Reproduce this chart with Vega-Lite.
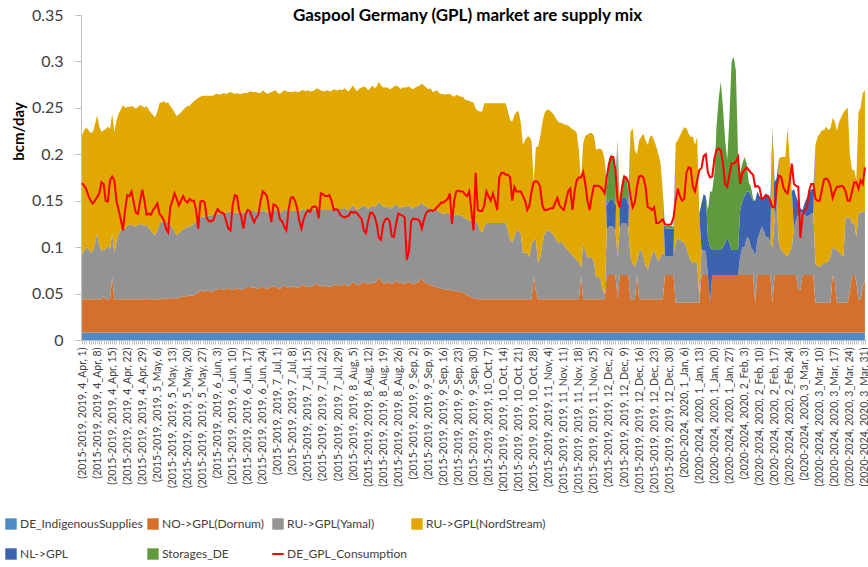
{
"$schema":"https://vega.github.io/schema/vega-lite/v6.json",
"width":785,"height":325,
"autosize":{"type":"none"},
"padding":{"left":81,"top":15,"right":2,"bottom":227},
"background":"white",
"config":{"view":{"stroke":null},"font":"Lato"},
"title":{"text":"Gaspool Germany (GPL) market are supply mix","fontSize":17,"fontWeight":"bold","font":"Lato","color":"#000000","offset":-18,"dx":-6},
"datasets":{
"names":[{"k":"a","name":"DE_IndigenousSupplies"},{"k":"b","name":"NO->GPL(Dornum)"},{"k":"c","name":"RU->GPL(Yamal)"},{"k":"e","name":"RU->GPL(NordStream)"},{"k":"f","name":"NL->GPL"},{"k":"g","name":"Storages_DE"}],
"supply":[
{"t":"(2015-2019, 2019, 4_Apr, 1)","a":0.008,"b":0.036,"c":0.048,"e":0.129,"f":0,"g":0,"h":0.169},
{"t":"(2015-2019, 2019, 4_Apr, 2)","a":0.008,"b":0.036,"c":0.052,"e":0.130,"f":0,"g":0,"h":0.166},
{"t":"(2015-2019, 2019, 4_Apr, 3)","a":0.008,"b":0.036,"c":0.056,"e":0.129,"f":0,"g":0,"h":0.162},
{"t":"(2015-2019, 2019, 4_Apr, 4)","a":0.008,"b":0.036,"c":0.054,"e":0.128,"f":0,"g":0,"h":0.155},
{"t":"(2015-2019, 2019, 4_Apr, 5)","a":0.008,"b":0.036,"c":0.050,"e":0.129,"f":0,"g":0,"h":0.150},
{"t":"(2015-2019, 2019, 4_Apr, 6)","a":0.008,"b":0.036,"c":0.052,"e":0.128,"f":0,"g":0,"h":0.147},
{"t":"(2015-2019, 2019, 4_Apr, 7)","a":0.008,"b":0.036,"c":0.060,"e":0.128,"f":0,"g":0,"h":0.150},
{"t":"(2015-2019, 2019, 4_Apr, 8)","a":0.008,"b":0.036,"c":0.071,"e":0.127,"f":0,"g":0,"h":0.154},
{"t":"(2015-2019, 2019, 4_Apr, 9)","a":0.008,"b":0.036,"c":0.058,"e":0.128,"f":0,"g":0,"h":0.158},
{"t":"(2015-2019, 2019, 4_Apr, 10)","a":0.008,"b":0.036,"c":0.052,"e":0.128,"f":0,"g":0,"h":0.170},
{"t":"(2015-2019, 2019, 4_Apr, 11)","a":0.008,"b":0.039,"c":0.050,"e":0.129,"f":0,"g":0,"h":0.168},
{"t":"(2015-2019, 2019, 4_Apr, 12)","a":0.008,"b":0.036,"c":0.054,"e":0.129,"f":0,"g":0,"h":0.150},
{"t":"(2015-2019, 2019, 4_Apr, 13)","a":0.008,"b":0.036,"c":0.058,"e":0.128,"f":0,"g":0,"h":0.149},
{"t":"(2015-2019, 2019, 4_Apr, 14)","a":0.008,"b":0.036,"c":0.054,"e":0.129,"f":0,"g":0,"h":0.172},
{"t":"(2015-2019, 2019, 4_Apr, 15)","a":0.008,"b":0.060,"c":0.047,"e":0.129,"f":0,"g":0,"h":0.176},
{"t":"(2015-2019, 2019, 4_Apr, 16)","a":0.008,"b":0.036,"c":0.050,"e":0.130,"f":0,"g":0,"h":0.172},
{"t":"(2015-2019, 2019, 4_Apr, 17)","a":0.008,"b":0.036,"c":0.062,"e":0.130,"f":0,"g":0,"h":0.150},
{"t":"(2015-2019, 2019, 4_Apr, 18)","a":0.008,"b":0.036,"c":0.070,"e":0.130,"f":0,"g":0,"h":0.140},
{"t":"(2015-2019, 2019, 4_Apr, 19)","a":0.008,"b":0.036,"c":0.074,"e":0.130,"f":0,"g":0,"h":0.130},
{"t":"(2015-2019, 2019, 4_Apr, 20)","a":0.008,"b":0.036,"c":0.076,"e":0.133,"f":0,"g":0,"h":0.118},
{"t":"(2015-2019, 2019, 4_Apr, 21)","a":0.008,"b":0.036,"c":0.076,"e":0.130,"f":0,"g":0,"h":0.140},
{"t":"(2015-2019, 2019, 4_Apr, 22)","a":0.008,"b":0.036,"c":0.079,"e":0.128,"f":0,"g":0,"h":0.156},
{"t":"(2015-2019, 2019, 4_Apr, 23)","a":0.008,"b":0.036,"c":0.080,"e":0.127,"f":0,"g":0,"h":0.155},
{"t":"(2015-2019, 2019, 4_Apr, 24)","a":0.008,"b":0.036,"c":0.080,"e":0.128,"f":0,"g":0,"h":0.160},
{"t":"(2015-2019, 2019, 4_Apr, 25)","a":0.008,"b":0.036,"c":0.079,"e":0.128,"f":0,"g":0,"h":0.148},
{"t":"(2015-2019, 2019, 4_Apr, 26)","a":0.008,"b":0.036,"c":0.078,"e":0.127,"f":0,"g":0,"h":0.137},
{"t":"(2015-2019, 2019, 4_Apr, 27)","a":0.008,"b":0.036,"c":0.080,"e":0.127,"f":0,"g":0,"h":0.136},
{"t":"(2015-2019, 2019, 4_Apr, 28)","a":0.008,"b":0.036,"c":0.081,"e":0.128,"f":0,"g":0,"h":0.150},
{"t":"(2015-2019, 2019, 4_Apr, 29)","a":0.008,"b":0.036,"c":0.080,"e":0.128,"f":0,"g":0,"h":0.162},
{"t":"(2015-2019, 2019, 4_Apr, 30)","a":0.008,"b":0.036,"c":0.079,"e":0.127,"f":0,"g":0,"h":0.150},
{"t":"(2015-2019, 2019, 5_May, 1)","a":0.008,"b":0.037,"c":0.079,"e":0.128,"f":0,"g":0,"h":0.135},
{"t":"(2015-2019, 2019, 5_May, 2)","a":0.008,"b":0.036,"c":0.077,"e":0.127,"f":0,"g":0,"h":0.136},
{"t":"(2015-2019, 2019, 5_May, 3)","a":0.008,"b":0.036,"c":0.074,"e":0.127,"f":0,"g":0,"h":0.135},
{"t":"(2015-2019, 2019, 5_May, 4)","a":0.008,"b":0.036,"c":0.071,"e":0.127,"f":0,"g":0,"h":0.140},
{"t":"(2015-2019, 2019, 5_May, 5)","a":0.008,"b":0.036,"c":0.069,"e":0.127,"f":0,"g":0,"h":0.143},
{"t":"(2015-2019, 2019, 5_May, 6)","a":0.008,"b":0.036,"c":0.074,"e":0.128,"f":0,"g":0,"h":0.147},
{"t":"(2015-2019, 2019, 5_May, 7)","a":0.008,"b":0.036,"c":0.082,"e":0.129,"f":0,"g":0,"h":0.136},
{"t":"(2015-2019, 2019, 5_May, 8)","a":0.008,"b":0.036,"c":0.083,"e":0.129,"f":0,"g":0,"h":0.133},
{"t":"(2015-2019, 2019, 5_May, 9)","a":0.008,"b":0.037,"c":0.083,"e":0.129,"f":0,"g":0,"h":0.129},
{"t":"(2015-2019, 2019, 5_May, 10)","a":0.008,"b":0.036,"c":0.083,"e":0.128,"f":0,"g":0,"h":0.120},
{"t":"(2015-2019, 2019, 5_May, 11)","a":0.008,"b":0.037,"c":0.082,"e":0.129,"f":0,"g":0,"h":0.116},
{"t":"(2015-2019, 2019, 5_May, 12)","a":0.008,"b":0.037,"c":0.079,"e":0.128,"f":0,"g":0,"h":0.143},
{"t":"(2015-2019, 2019, 5_May, 13)","a":0.008,"b":0.037,"c":0.076,"e":0.128,"f":0,"g":0,"h":0.150},
{"t":"(2015-2019, 2019, 5_May, 14)","a":0.008,"b":0.037,"c":0.072,"e":0.128,"f":0,"g":0,"h":0.158},
{"t":"(2015-2019, 2019, 5_May, 15)","a":0.008,"b":0.037,"c":0.068,"e":0.128,"f":0,"g":0,"h":0.152},
{"t":"(2015-2019, 2019, 5_May, 16)","a":0.008,"b":0.037,"c":0.070,"e":0.128,"f":0,"g":0,"h":0.145},
{"t":"(2015-2019, 2019, 5_May, 17)","a":0.008,"b":0.039,"c":0.070,"e":0.128,"f":0,"g":0,"h":0.150},
{"t":"(2015-2019, 2019, 5_May, 18)","a":0.008,"b":0.039,"c":0.072,"e":0.129,"f":0,"g":0,"h":0.155},
{"t":"(2015-2019, 2019, 5_May, 19)","a":0.008,"b":0.039,"c":0.074,"e":0.129,"f":0,"g":0,"h":0.150},
{"t":"(2015-2019, 2019, 5_May, 20)","a":0.008,"b":0.039,"c":0.075,"e":0.130,"f":0,"g":0,"h":0.148},
{"t":"(2015-2019, 2019, 5_May, 21)","a":0.008,"b":0.040,"c":0.074,"e":0.130,"f":0,"g":0,"h":0.152},
{"t":"(2015-2019, 2019, 5_May, 22)","a":0.008,"b":0.040,"c":0.076,"e":0.131,"f":0,"g":0,"h":0.150},
{"t":"(2015-2019, 2019, 5_May, 23)","a":0.008,"b":0.040,"c":0.077,"e":0.132,"f":0,"g":0,"h":0.150},
{"t":"(2015-2019, 2019, 5_May, 24)","a":0.008,"b":0.042,"c":0.078,"e":0.131,"f":0,"g":0,"h":0.140},
{"t":"(2015-2019, 2019, 5_May, 25)","a":0.008,"b":0.043,"c":0.079,"e":0.131,"f":0,"g":0,"h":0.120},
{"t":"(2015-2019, 2019, 5_May, 26)","a":0.008,"b":0.045,"c":0.079,"e":0.130,"f":0,"g":0,"h":0.149},
{"t":"(2015-2019, 2019, 5_May, 27)","a":0.008,"b":0.045,"c":0.080,"e":0.130,"f":0,"g":0,"h":0.150},
{"t":"(2015-2019, 2019, 5_May, 28)","a":0.008,"b":0.044,"c":0.081,"e":0.130,"f":0,"g":0,"h":0.148},
{"t":"(2015-2019, 2019, 5_May, 29)","a":0.008,"b":0.045,"c":0.081,"e":0.129,"f":0,"g":0,"h":0.131},
{"t":"(2015-2019, 2019, 5_May, 30)","a":0.008,"b":0.045,"c":0.081,"e":0.129,"f":0,"g":0,"h":0.128},
{"t":"(2015-2019, 2019, 5_May, 31)","a":0.008,"b":0.044,"c":0.082,"e":0.129,"f":0,"g":0,"h":0.128},
{"t":"(2015-2019, 2019, 6_Jun, 1)","a":0.008,"b":0.045,"c":0.082,"e":0.128,"f":0,"g":0,"h":0.129},
{"t":"(2015-2019, 2019, 6_Jun, 2)","a":0.008,"b":0.046,"c":0.083,"e":0.128,"f":0,"g":0,"h":0.136},
{"t":"(2015-2019, 2019, 6_Jun, 3)","a":0.008,"b":0.046,"c":0.082,"e":0.129,"f":0,"g":0,"h":0.141},
{"t":"(2015-2019, 2019, 6_Jun, 4)","a":0.008,"b":0.047,"c":0.081,"e":0.128,"f":0,"g":0,"h":0.138},
{"t":"(2015-2019, 2019, 6_Jun, 5)","a":0.008,"b":0.047,"c":0.082,"e":0.128,"f":0,"g":0,"h":0.137},
{"t":"(2015-2019, 2019, 6_Jun, 6)","a":0.008,"b":0.046,"c":0.083,"e":0.129,"f":0,"g":0,"h":0.136},
{"t":"(2015-2019, 2019, 6_Jun, 7)","a":0.008,"b":0.047,"c":0.082,"e":0.128,"f":0,"g":0,"h":0.128},
{"t":"(2015-2019, 2019, 6_Jun, 8)","a":0.008,"b":0.048,"c":0.082,"e":0.128,"f":0,"g":0,"h":0.120},
{"t":"(2015-2019, 2019, 6_Jun, 9)","a":0.008,"b":0.047,"c":0.083,"e":0.129,"f":0,"g":0,"h":0.118},
{"t":"(2015-2019, 2019, 6_Jun, 10)","a":0.008,"b":0.046,"c":0.084,"e":0.128,"f":0,"g":0,"h":0.145},
{"t":"(2015-2019, 2019, 6_Jun, 11)","a":0.008,"b":0.047,"c":0.082,"e":0.128,"f":0,"g":0,"h":0.156},
{"t":"(2015-2019, 2019, 6_Jun, 12)","a":0.008,"b":0.048,"c":0.081,"e":0.129,"f":0,"g":0,"h":0.155},
{"t":"(2015-2019, 2019, 6_Jun, 13)","a":0.008,"b":0.047,"c":0.082,"e":0.128,"f":0,"g":0,"h":0.140},
{"t":"(2015-2019, 2019, 6_Jun, 14)","a":0.008,"b":0.046,"c":0.083,"e":0.128,"f":0,"g":0,"h":0.133},
{"t":"(2015-2019, 2019, 6_Jun, 15)","a":0.008,"b":0.047,"c":0.082,"e":0.129,"f":0,"g":0,"h":0.120},
{"t":"(2015-2019, 2019, 6_Jun, 16)","a":0.008,"b":0.048,"c":0.082,"e":0.128,"f":0,"g":0,"h":0.135},
{"t":"(2015-2019, 2019, 6_Jun, 17)","a":0.008,"b":0.049,"c":0.081,"e":0.128,"f":0,"g":0,"h":0.140},
{"t":"(2015-2019, 2019, 6_Jun, 18)","a":0.008,"b":0.049,"c":0.082,"e":0.129,"f":0,"g":0,"h":0.139},
{"t":"(2015-2019, 2019, 6_Jun, 19)","a":0.008,"b":0.048,"c":0.083,"e":0.128,"f":0,"g":0,"h":0.132},
{"t":"(2015-2019, 2019, 6_Jun, 20)","a":0.008,"b":0.049,"c":0.082,"e":0.128,"f":0,"g":0,"h":0.127},
{"t":"(2015-2019, 2019, 6_Jun, 21)","a":0.008,"b":0.048,"c":0.082,"e":0.129,"f":0,"g":0,"h":0.132},
{"t":"(2015-2019, 2019, 6_Jun, 22)","a":0.008,"b":0.047,"c":0.083,"e":0.128,"f":0,"g":0,"h":0.135},
{"t":"(2015-2019, 2019, 6_Jun, 23)","a":0.008,"b":0.048,"c":0.082,"e":0.128,"f":0,"g":0,"h":0.150},
{"t":"(2015-2019, 2019, 6_Jun, 24)","a":0.008,"b":0.050,"c":0.082,"e":0.129,"f":0,"g":0,"h":0.160},
{"t":"(2015-2019, 2019, 6_Jun, 25)","a":0.008,"b":0.048,"c":0.083,"e":0.128,"f":0,"g":0,"h":0.158},
{"t":"(2015-2019, 2019, 6_Jun, 26)","a":0.008,"b":0.047,"c":0.082,"e":0.128,"f":0,"g":0,"h":0.155},
{"t":"(2015-2019, 2019, 6_Jun, 27)","a":0.008,"b":0.048,"c":0.081,"e":0.129,"f":0,"g":0,"h":0.140},
{"t":"(2015-2019, 2019, 6_Jun, 28)","a":0.008,"b":0.049,"c":0.082,"e":0.128,"f":0,"g":0,"h":0.127},
{"t":"(2015-2019, 2019, 6_Jun, 29)","a":0.008,"b":0.050,"c":0.082,"e":0.128,"f":0,"g":0,"h":0.146},
{"t":"(2015-2019, 2019, 6_Jun, 30)","a":0.008,"b":0.049,"c":0.083,"e":0.129,"f":0,"g":0,"h":0.145},
{"t":"(2015-2019, 2019, 7_Jul, 1)","a":0.008,"b":0.048,"c":0.082,"e":0.128,"f":0,"g":0,"h":0.142},
{"t":"(2015-2019, 2019, 7_Jul, 2)","a":0.008,"b":0.047,"c":0.082,"e":0.128,"f":0,"g":0,"h":0.130},
{"t":"(2015-2019, 2019, 7_Jul, 3)","a":0.008,"b":0.049,"c":0.081,"e":0.129,"f":0,"g":0,"h":0.128},
{"t":"(2015-2019, 2019, 7_Jul, 4)","a":0.008,"b":0.051,"c":0.082,"e":0.128,"f":0,"g":0,"h":0.122},
{"t":"(2015-2019, 2019, 7_Jul, 5)","a":0.008,"b":0.049,"c":0.083,"e":0.128,"f":0,"g":0,"h":0.118},
{"t":"(2015-2019, 2019, 7_Jul, 6)","a":0.008,"b":0.048,"c":0.082,"e":0.129,"f":0,"g":0,"h":0.140},
{"t":"(2015-2019, 2019, 7_Jul, 7)","a":0.008,"b":0.049,"c":0.082,"e":0.128,"f":0,"g":0,"h":0.153},
{"t":"(2015-2019, 2019, 7_Jul, 8)","a":0.008,"b":0.050,"c":0.081,"e":0.128,"f":0,"g":0,"h":0.154},
{"t":"(2015-2019, 2019, 7_Jul, 9)","a":0.008,"b":0.049,"c":0.082,"e":0.129,"f":0,"g":0,"h":0.150},
{"t":"(2015-2019, 2019, 7_Jul, 10)","a":0.008,"b":0.048,"c":0.083,"e":0.128,"f":0,"g":0,"h":0.142},
{"t":"(2015-2019, 2019, 7_Jul, 11)","a":0.008,"b":0.049,"c":0.082,"e":0.128,"f":0,"g":0,"h":0.128},
{"t":"(2015-2019, 2019, 7_Jul, 12)","a":0.008,"b":0.050,"c":0.082,"e":0.129,"f":0,"g":0,"h":0.120},
{"t":"(2015-2019, 2019, 7_Jul, 13)","a":0.008,"b":0.052,"c":0.081,"e":0.128,"f":0,"g":0,"h":0.130},
{"t":"(2015-2019, 2019, 7_Jul, 14)","a":0.008,"b":0.050,"c":0.082,"e":0.128,"f":0,"g":0,"h":0.136},
{"t":"(2015-2019, 2019, 7_Jul, 15)","a":0.008,"b":0.049,"c":0.083,"e":0.129,"f":0,"g":0,"h":0.140},
{"t":"(2015-2019, 2019, 7_Jul, 16)","a":0.008,"b":0.050,"c":0.082,"e":0.128,"f":0,"g":0,"h":0.138},
{"t":"(2015-2019, 2019, 7_Jul, 17)","a":0.008,"b":0.050,"c":0.082,"e":0.128,"f":0,"g":0,"h":0.143},
{"t":"(2015-2019, 2019, 7_Jul, 18)","a":0.008,"b":0.051,"c":0.081,"e":0.129,"f":0,"g":0,"h":0.144},
{"t":"(2015-2019, 2019, 7_Jul, 19)","a":0.008,"b":0.053,"c":0.082,"e":0.128,"f":0,"g":0,"h":0.143},
{"t":"(2015-2019, 2019, 7_Jul, 20)","a":0.008,"b":0.051,"c":0.083,"e":0.128,"f":0,"g":0,"h":0.131},
{"t":"(2015-2019, 2019, 7_Jul, 21)","a":0.008,"b":0.050,"c":0.082,"e":0.129,"f":0,"g":0,"h":0.158},
{"t":"(2015-2019, 2019, 7_Jul, 22)","a":0.008,"b":0.050,"c":0.082,"e":0.128,"f":0,"g":0,"h":0.157},
{"t":"(2015-2019, 2019, 7_Jul, 23)","a":0.008,"b":0.051,"c":0.081,"e":0.128,"f":0,"g":0,"h":0.155},
{"t":"(2015-2019, 2019, 7_Jul, 24)","a":0.008,"b":0.050,"c":0.082,"e":0.129,"f":0,"g":0,"h":0.155},
{"t":"(2015-2019, 2019, 7_Jul, 25)","a":0.008,"b":0.049,"c":0.083,"e":0.128,"f":0,"g":0,"h":0.156},
{"t":"(2015-2019, 2019, 7_Jul, 26)","a":0.008,"b":0.050,"c":0.082,"e":0.128,"f":0,"g":0,"h":0.150},
{"t":"(2015-2019, 2019, 7_Jul, 27)","a":0.008,"b":0.051,"c":0.082,"e":0.129,"f":0,"g":0,"h":0.140},
{"t":"(2015-2019, 2019, 7_Jul, 28)","a":0.008,"b":0.052,"c":0.081,"e":0.128,"f":0,"g":0,"h":0.141},
{"t":"(2015-2019, 2019, 7_Jul, 29)","a":0.008,"b":0.051,"c":0.082,"e":0.128,"f":0,"g":0,"h":0.140},
{"t":"(2015-2019, 2019, 7_Jul, 30)","a":0.008,"b":0.050,"c":0.083,"e":0.129,"f":0,"g":0,"h":0.135},
{"t":"(2015-2019, 2019, 7_Jul, 31)","a":0.008,"b":0.051,"c":0.082,"e":0.128,"f":0,"g":0,"h":0.133},
{"t":"(2015-2019, 2019, 8_Aug, 1)","a":0.008,"b":0.053,"c":0.082,"e":0.128,"f":0,"g":0,"h":0.132},
{"t":"(2015-2019, 2019, 8_Aug, 2)","a":0.008,"b":0.051,"c":0.081,"e":0.129,"f":0,"g":0,"h":0.133},
{"t":"(2015-2019, 2019, 8_Aug, 3)","a":0.008,"b":0.050,"c":0.082,"e":0.128,"f":0,"g":0,"h":0.134},
{"t":"(2015-2019, 2019, 8_Aug, 4)","a":0.008,"b":0.052,"c":0.083,"e":0.128,"f":0,"g":0,"h":0.138},
{"t":"(2015-2019, 2019, 8_Aug, 5)","a":0.008,"b":0.055,"c":0.082,"e":0.129,"f":0,"g":0,"h":0.137},
{"t":"(2015-2019, 2019, 8_Aug, 6)","a":0.008,"b":0.052,"c":0.082,"e":0.128,"f":0,"g":0,"h":0.138},
{"t":"(2015-2019, 2019, 8_Aug, 7)","a":0.008,"b":0.051,"c":0.081,"e":0.128,"f":0,"g":0,"h":0.136},
{"t":"(2015-2019, 2019, 8_Aug, 8)","a":0.008,"b":0.052,"c":0.082,"e":0.129,"f":0,"g":0,"h":0.133},
{"t":"(2015-2019, 2019, 8_Aug, 9)","a":0.008,"b":0.053,"c":0.083,"e":0.128,"f":0,"g":0,"h":0.130},
{"t":"(2015-2019, 2019, 8_Aug, 10)","a":0.008,"b":0.055,"c":0.082,"e":0.128,"f":0,"g":0,"h":0.118},
{"t":"(2015-2019, 2019, 8_Aug, 11)","a":0.008,"b":0.053,"c":0.082,"e":0.129,"f":0,"g":0,"h":0.115},
{"t":"(2015-2019, 2019, 8_Aug, 12)","a":0.008,"b":0.052,"c":0.081,"e":0.128,"f":0,"g":0,"h":0.128},
{"t":"(2015-2019, 2019, 8_Aug, 13)","a":0.008,"b":0.053,"c":0.082,"e":0.128,"f":0,"g":0,"h":0.137},
{"t":"(2015-2019, 2019, 8_Aug, 14)","a":0.008,"b":0.054,"c":0.083,"e":0.129,"f":0,"g":0,"h":0.137},
{"t":"(2015-2019, 2019, 8_Aug, 15)","a":0.008,"b":0.053,"c":0.082,"e":0.128,"f":0,"g":0,"h":0.133},
{"t":"(2015-2019, 2019, 8_Aug, 16)","a":0.008,"b":0.055,"c":0.082,"e":0.128,"f":0,"g":0,"h":0.125},
{"t":"(2015-2019, 2019, 8_Aug, 17)","a":0.008,"b":0.060,"c":0.081,"e":0.129,"f":0,"g":0,"h":0.110},
{"t":"(2015-2019, 2019, 8_Aug, 18)","a":0.008,"b":0.056,"c":0.082,"e":0.128,"f":0,"g":0,"h":0.108},
{"t":"(2015-2019, 2019, 8_Aug, 19)","a":0.008,"b":0.053,"c":0.083,"e":0.128,"f":0,"g":0,"h":0.125},
{"t":"(2015-2019, 2019, 8_Aug, 20)","a":0.008,"b":0.053,"c":0.082,"e":0.129,"f":0,"g":0,"h":0.130},
{"t":"(2015-2019, 2019, 8_Aug, 21)","a":0.008,"b":0.054,"c":0.082,"e":0.128,"f":0,"g":0,"h":0.131},
{"t":"(2015-2019, 2019, 8_Aug, 22)","a":0.008,"b":0.053,"c":0.081,"e":0.128,"f":0,"g":0,"h":0.128},
{"t":"(2015-2019, 2019, 8_Aug, 23)","a":0.008,"b":0.052,"c":0.082,"e":0.129,"f":0,"g":0,"h":0.112},
{"t":"(2015-2019, 2019, 8_Aug, 24)","a":0.008,"b":0.054,"c":0.083,"e":0.128,"f":0,"g":0,"h":0.111},
{"t":"(2015-2019, 2019, 8_Aug, 25)","a":0.008,"b":0.056,"c":0.082,"e":0.128,"f":0,"g":0,"h":0.125},
{"t":"(2015-2019, 2019, 8_Aug, 26)","a":0.008,"b":0.054,"c":0.082,"e":0.129,"f":0,"g":0,"h":0.136},
{"t":"(2015-2019, 2019, 8_Aug, 27)","a":0.008,"b":0.053,"c":0.081,"e":0.128,"f":0,"g":0,"h":0.135},
{"t":"(2015-2019, 2019, 8_Aug, 28)","a":0.008,"b":0.054,"c":0.082,"e":0.128,"f":0,"g":0,"h":0.134},
{"t":"(2015-2019, 2019, 8_Aug, 29)","a":0.008,"b":0.052,"c":0.083,"e":0.129,"f":0,"g":0,"h":0.132},
{"t":"(2015-2019, 2019, 8_Aug, 30)","a":0.008,"b":0.054,"c":0.082,"e":0.128,"f":0,"g":0,"h":0.086},
{"t":"(2015-2019, 2019, 8_Aug, 31)","a":0.008,"b":0.055,"c":0.082,"e":0.128,"f":0,"g":0,"h":0.096},
{"t":"(2015-2019, 2019, 9_Sep, 1)","a":0.008,"b":0.053,"c":0.081,"e":0.129,"f":0,"g":0,"h":0.128},
{"t":"(2015-2019, 2019, 9_Sep, 2)","a":0.008,"b":0.052,"c":0.082,"e":0.128,"f":0,"g":0,"h":0.131},
{"t":"(2015-2019, 2019, 9_Sep, 3)","a":0.008,"b":0.053,"c":0.083,"e":0.128,"f":0,"g":0,"h":0.130},
{"t":"(2015-2019, 2019, 9_Sep, 4)","a":0.008,"b":0.054,"c":0.082,"e":0.129,"f":0,"g":0,"h":0.130},
{"t":"(2015-2019, 2019, 9_Sep, 5)","a":0.008,"b":0.056,"c":0.082,"e":0.128,"f":0,"g":0,"h":0.128},
{"t":"(2015-2019, 2019, 9_Sep, 6)","a":0.008,"b":0.059,"c":0.081,"e":0.128,"f":0,"g":0,"h":0.120},
{"t":"(2015-2019, 2019, 9_Sep, 7)","a":0.008,"b":0.055,"c":0.082,"e":0.129,"f":0,"g":0,"h":0.130},
{"t":"(2015-2019, 2019, 9_Sep, 8)","a":0.008,"b":0.053,"c":0.083,"e":0.128,"f":0,"g":0,"h":0.137},
{"t":"(2015-2019, 2019, 9_Sep, 9)","a":0.008,"b":0.052,"c":0.082,"e":0.128,"f":0,"g":0,"h":0.139},
{"t":"(2015-2019, 2019, 9_Sep, 10)","a":0.008,"b":0.052,"c":0.082,"e":0.129,"f":0,"g":0,"h":0.140},
{"t":"(2015-2019, 2019, 9_Sep, 11)","a":0.008,"b":0.050,"c":0.081,"e":0.128,"f":0,"g":0,"h":0.139},
{"t":"(2015-2019, 2019, 9_Sep, 12)","a":0.008,"b":0.050,"c":0.082,"e":0.128,"f":0,"g":0,"h":0.140},
{"t":"(2015-2019, 2019, 9_Sep, 13)","a":0.008,"b":0.049,"c":0.083,"e":0.129,"f":0,"g":0,"h":0.143},
{"t":"(2015-2019, 2019, 9_Sep, 14)","a":0.008,"b":0.048,"c":0.082,"e":0.128,"f":0,"g":0,"h":0.145},
{"t":"(2015-2019, 2019, 9_Sep, 15)","a":0.008,"b":0.047,"c":0.082,"e":0.128,"f":0,"g":0,"h":0.148},
{"t":"(2015-2019, 2019, 9_Sep, 16)","a":0.008,"b":0.047,"c":0.081,"e":0.129,"f":0,"g":0,"h":0.148},
{"t":"(2015-2019, 2019, 9_Sep, 17)","a":0.008,"b":0.046,"c":0.082,"e":0.128,"f":0,"g":0,"h":0.150},
{"t":"(2015-2019, 2019, 9_Sep, 18)","a":0.008,"b":0.046,"c":0.083,"e":0.128,"f":0,"g":0,"h":0.152},
{"t":"(2015-2019, 2019, 9_Sep, 19)","a":0.008,"b":0.046,"c":0.082,"e":0.129,"f":0,"g":0,"h":0.158},
{"t":"(2015-2019, 2019, 9_Sep, 20)","a":0.008,"b":0.045,"c":0.082,"e":0.128,"f":0,"g":0,"h":0.125},
{"t":"(2015-2019, 2019, 9_Sep, 21)","a":0.008,"b":0.045,"c":0.081,"e":0.128,"f":0,"g":0,"h":0.150},
{"t":"(2015-2019, 2019, 9_Sep, 22)","a":0.008,"b":0.045,"c":0.082,"e":0.129,"f":0,"g":0,"h":0.160},
{"t":"(2015-2019, 2019, 9_Sep, 23)","a":0.008,"b":0.044,"c":0.083,"e":0.128,"f":0,"g":0,"h":0.161},
{"t":"(2015-2019, 2019, 9_Sep, 24)","a":0.008,"b":0.044,"c":0.082,"e":0.128,"f":0,"g":0,"h":0.160},
{"t":"(2015-2019, 2019, 9_Sep, 25)","a":0.008,"b":0.043,"c":0.082,"e":0.129,"f":0,"g":0,"h":0.160},
{"t":"(2015-2019, 2019, 9_Sep, 26)","a":0.008,"b":0.042,"c":0.081,"e":0.128,"f":0,"g":0,"h":0.157},
{"t":"(2015-2019, 2019, 9_Sep, 27)","a":0.008,"b":0.040,"c":0.082,"e":0.128,"f":0,"g":0,"h":0.155},
{"t":"(2015-2019, 2019, 9_Sep, 28)","a":0.008,"b":0.039,"c":0.082,"e":0.129,"f":0,"g":0,"h":0.160},
{"t":"(2015-2019, 2019, 9_Sep, 29)","a":0.008,"b":0.038,"c":0.082,"e":0.128,"f":0,"g":0,"h":0.140},
{"t":"(2015-2019, 2019, 9_Sep, 30)","a":0.008,"b":0.037,"c":0.082,"e":0.129,"f":0,"g":0,"h":0.118},
{"t":"(2015-2019, 2019, 10_Oct, 1)","a":0.008,"b":0.037,"c":0.082,"e":0.122,"f":0,"g":0,"h":0.180},
{"t":"(2015-2019, 2019, 10_Oct, 2)","a":0.008,"b":0.036,"c":0.082,"e":0.121,"f":0,"g":0,"h":0.140},
{"t":"(2015-2019, 2019, 10_Oct, 3)","a":0.008,"b":0.036,"c":0.074,"e":0.128,"f":0,"g":0,"h":0.139},
{"t":"(2015-2019, 2019, 10_Oct, 4)","a":0.008,"b":0.036,"c":0.072,"e":0.130,"f":0,"g":0,"h":0.139},
{"t":"(2015-2019, 2019, 10_Oct, 5)","a":0.008,"b":0.036,"c":0.078,"e":0.133,"f":0,"g":0,"h":0.145},
{"t":"(2015-2019, 2019, 10_Oct, 6)","a":0.008,"b":0.036,"c":0.082,"e":0.129,"f":0,"g":0,"h":0.160},
{"t":"(2015-2019, 2019, 10_Oct, 7)","a":0.008,"b":0.036,"c":0.082,"e":0.129,"f":0,"g":0,"h":0.155},
{"t":"(2015-2019, 2019, 10_Oct, 8)","a":0.008,"b":0.036,"c":0.082,"e":0.129,"f":0,"g":0,"h":0.150},
{"t":"(2015-2019, 2019, 10_Oct, 9)","a":0.008,"b":0.036,"c":0.082,"e":0.129,"f":0,"g":0,"h":0.158},
{"t":"(2015-2019, 2019, 10_Oct, 10)","a":0.008,"b":0.036,"c":0.082,"e":0.129,"f":0,"g":0,"h":0.150},
{"t":"(2015-2019, 2019, 10_Oct, 11)","a":0.008,"b":0.036,"c":0.082,"e":0.129,"f":0,"g":0,"h":0.140},
{"t":"(2015-2019, 2019, 10_Oct, 12)","a":0.008,"b":0.036,"c":0.082,"e":0.129,"f":0,"g":0,"h":0.175},
{"t":"(2015-2019, 2019, 10_Oct, 13)","a":0.008,"b":0.036,"c":0.082,"e":0.129,"f":0,"g":0,"h":0.180},
{"t":"(2015-2019, 2019, 10_Oct, 14)","a":0.008,"b":0.036,"c":0.082,"e":0.129,"f":0,"g":0,"h":0.180},
{"t":"(2015-2019, 2019, 10_Oct, 15)","a":0.008,"b":0.036,"c":0.082,"e":0.129,"f":0,"g":0,"h":0.178},
{"t":"(2015-2019, 2019, 10_Oct, 16)","a":0.008,"b":0.036,"c":0.074,"e":0.128,"f":0,"g":0,"h":0.178},
{"t":"(2015-2019, 2019, 10_Oct, 17)","a":0.008,"b":0.036,"c":0.064,"e":0.129,"f":0,"g":0,"h":0.175},
{"t":"(2015-2019, 2019, 10_Oct, 18)","a":0.008,"b":0.036,"c":0.061,"e":0.130,"f":0,"g":0,"h":0.150},
{"t":"(2015-2019, 2019, 10_Oct, 19)","a":0.008,"b":0.036,"c":0.068,"e":0.130,"f":0,"g":0,"h":0.165},
{"t":"(2015-2019, 2019, 10_Oct, 20)","a":0.008,"b":0.036,"c":0.074,"e":0.128,"f":0,"g":0,"h":0.160},
{"t":"(2015-2019, 2019, 10_Oct, 21)","a":0.008,"b":0.036,"c":0.074,"e":0.128,"f":0,"g":0,"h":0.160},
{"t":"(2015-2019, 2019, 10_Oct, 22)","a":0.008,"b":0.036,"c":0.070,"e":0.120,"f":0,"g":0,"h":0.160},
{"t":"(2015-2019, 2019, 10_Oct, 23)","a":0.008,"b":0.036,"c":0.050,"e":0.116,"f":0,"g":0,"h":0.155},
{"t":"(2015-2019, 2019, 10_Oct, 24)","a":0.008,"b":0.036,"c":0.050,"e":0.121,"f":0,"g":0,"h":0.150},
{"t":"(2015-2019, 2019, 10_Oct, 25)","a":0.008,"b":0.036,"c":0.050,"e":0.125,"f":0,"g":0,"h":0.140},
{"t":"(2015-2019, 2019, 10_Oct, 26)","a":0.008,"b":0.036,"c":0.045,"e":0.130,"f":0,"g":0,"h":0.145},
{"t":"(2015-2019, 2019, 10_Oct, 27)","a":0.008,"b":0.036,"c":0.060,"e":0.110,"f":0,"g":0,"h":0.160},
{"t":"(2015-2019, 2019, 10_Oct, 28)","a":0.008,"b":0.060,"c":0.040,"e":0.062,"f":0,"g":0,"h":0.170},
{"t":"(2015-2019, 2019, 10_Oct, 29)","a":0.008,"b":0.045,"c":0.055,"e":0.100,"f":0,"g":0,"h":0.171},
{"t":"(2015-2019, 2019, 10_Oct, 30)","a":0.008,"b":0.036,"c":0.039,"e":0.125,"f":0,"g":0,"h":0.170},
{"t":"(2015-2019, 2019, 10_Oct, 31)","a":0.008,"b":0.036,"c":0.045,"e":0.130,"f":0,"g":0,"h":0.165},
{"t":"(2015-2019, 2019, 11_Nov, 1)","a":0.008,"b":0.036,"c":0.060,"e":0.130,"f":0,"g":0,"h":0.145},
{"t":"(2015-2019, 2019, 11_Nov, 2)","a":0.008,"b":0.036,"c":0.070,"e":0.130,"f":0,"g":0,"h":0.140},
{"t":"(2015-2019, 2019, 11_Nov, 3)","a":0.008,"b":0.036,"c":0.074,"e":0.130,"f":0,"g":0,"h":0.140},
{"t":"(2015-2019, 2019, 11_Nov, 4)","a":0.008,"b":0.036,"c":0.074,"e":0.130,"f":0,"g":0,"h":0.141},
{"t":"(2015-2019, 2019, 11_Nov, 5)","a":0.008,"b":0.036,"c":0.072,"e":0.130,"f":0,"g":0,"h":0.142},
{"t":"(2015-2019, 2019, 11_Nov, 6)","a":0.008,"b":0.036,"c":0.070,"e":0.130,"f":0,"g":0,"h":0.142},
{"t":"(2015-2019, 2019, 11_Nov, 7)","a":0.008,"b":0.036,"c":0.066,"e":0.130,"f":0,"g":0,"h":0.148},
{"t":"(2015-2019, 2019, 11_Nov, 8)","a":0.008,"b":0.036,"c":0.062,"e":0.130,"f":0,"g":0,"h":0.153},
{"t":"(2015-2019, 2019, 11_Nov, 9)","a":0.008,"b":0.036,"c":0.060,"e":0.130,"f":0,"g":0,"h":0.145},
{"t":"(2015-2019, 2019, 11_Nov, 10)","a":0.008,"b":0.036,"c":0.062,"e":0.128,"f":0,"g":0,"h":0.142},
{"t":"(2015-2019, 2019, 11_Nov, 11)","a":0.008,"b":0.036,"c":0.058,"e":0.130,"f":0,"g":0,"h":0.140},
{"t":"(2015-2019, 2019, 11_Nov, 12)","a":0.008,"b":0.036,"c":0.055,"e":0.133,"f":0,"g":0,"h":0.150},
{"t":"(2015-2019, 2019, 11_Nov, 13)","a":0.008,"b":0.036,"c":0.053,"e":0.134,"f":0,"g":0,"h":0.160},
{"t":"(2015-2019, 2019, 11_Nov, 14)","a":0.008,"b":0.036,"c":0.050,"e":0.135,"f":0,"g":0,"h":0.163},
{"t":"(2015-2019, 2019, 11_Nov, 15)","a":0.008,"b":0.036,"c":0.047,"e":0.136,"f":0,"g":0,"h":0.140},
{"t":"(2015-2019, 2019, 11_Nov, 16)","a":0.008,"b":0.036,"c":0.045,"e":0.137,"f":0,"g":0,"h":0.160},
{"t":"(2015-2019, 2019, 11_Nov, 17)","a":0.008,"b":0.036,"c":0.042,"e":0.137,"f":0,"g":0,"h":0.172},
{"t":"(2015-2019, 2019, 11_Nov, 18)","a":0.008,"b":0.036,"c":0.040,"e":0.120,"f":0,"g":0,"h":0.175},
{"t":"(2015-2019, 2019, 11_Nov, 19)","a":0.008,"b":0.060,"c":0.010,"e":0.094,"f":0,"g":0,"h":0.175},
{"t":"(2015-2019, 2019, 11_Nov, 20)","a":0.008,"b":0.036,"c":0.060,"e":0.108,"f":0,"g":0,"h":0.181},
{"t":"(2015-2019, 2019, 11_Nov, 21)","a":0.008,"b":0.036,"c":0.052,"e":0.124,"f":0,"g":0,"h":0.168},
{"t":"(2015-2019, 2019, 11_Nov, 22)","a":0.008,"b":0.036,"c":0.045,"e":0.132,"f":0,"g":0,"h":0.150},
{"t":"(2015-2019, 2019, 11_Nov, 23)","a":0.008,"b":0.036,"c":0.045,"e":0.134,"f":0,"g":0,"h":0.140},
{"t":"(2015-2019, 2019, 11_Nov, 24)","a":0.008,"b":0.036,"c":0.045,"e":0.134,"f":0,"g":0,"h":0.155},
{"t":"(2015-2019, 2019, 11_Nov, 25)","a":0.008,"b":0.036,"c":0.040,"e":0.136,"f":0,"g":0,"h":0.166},
{"t":"(2015-2019, 2019, 11_Nov, 26)","a":0.008,"b":0.036,"c":0.024,"e":0.137,"f":0,"g":0,"h":0.166},
{"t":"(2015-2019, 2019, 11_Nov, 27)","a":0.008,"b":0.036,"c":0.024,"e":0.138,"f":0,"g":0,"h":0.166},
{"t":"(2015-2019, 2019, 11_Nov, 28)","a":0.008,"b":0.036,"c":0.022,"e":0.140,"f":0,"g":0,"h":0.165},
{"t":"(2015-2019, 2019, 11_Nov, 29)","a":0.008,"b":0.036,"c":0.010,"e":0.150,"f":0,"g":0,"h":0.162},
{"t":"(2015-2019, 2019, 11_Nov, 30)","a":0.008,"b":0.036,"c":0.005,"e":0.145,"f":0,"g":0,"h":0.158},
{"t":"(2015-2019, 2019, 12_Dec, 1)","a":0.008,"b":0.062,"c":0.050,"e":0,"f":0.025,"g":0.020,"h":0.176},
{"t":"(2015-2019, 2019, 12_Dec, 2)","a":0.008,"b":0.062,"c":0.052,"e":0,"f":0.028,"g":0.045,"h":0.190},
{"t":"(2015-2019, 2019, 12_Dec, 3)","a":0.008,"b":0.062,"c":0.053,"e":0,"f":0.029,"g":0.048,"h":0.197},
{"t":"(2015-2019, 2019, 12_Dec, 4)","a":0.008,"b":0.062,"c":0.052,"e":0,"f":0.029,"g":0.046,"h":0.197},
{"t":"(2015-2019, 2019, 12_Dec, 5)","a":0.008,"b":0.062,"c":0.048,"e":0,"f":0.027,"g":0.030,"h":0.183},
{"t":"(2015-2019, 2019, 12_Dec, 6)","a":0.008,"b":0.036,"c":0.046,"e":0.125,"f":0,"g":0,"h":0.150},
{"t":"(2015-2019, 2019, 12_Dec, 7)","a":0.008,"b":0.062,"c":0.050,"e":0,"f":0.025,"g":0.005,"h":0.143},
{"t":"(2015-2019, 2019, 12_Dec, 8)","a":0.008,"b":0.062,"c":0.056,"e":0,"f":0.026,"g":0.018,"h":0.163},
{"t":"(2015-2019, 2019, 12_Dec, 9)","a":0.008,"b":0.062,"c":0.056,"e":0,"f":0.028,"g":0.024,"h":0.176},
{"t":"(2015-2019, 2019, 12_Dec, 10)","a":0.008,"b":0.062,"c":0.056,"e":0,"f":0.027,"g":0.023,"h":0.175},
{"t":"(2015-2019, 2019, 12_Dec, 11)","a":0.008,"b":0.062,"c":0.050,"e":0,"f":0.025,"g":0.015,"h":0.170},
{"t":"(2015-2019, 2019, 12_Dec, 12)","a":0.008,"b":0.036,"c":0.046,"e":0.134,"f":0,"g":0,"h":0.155},
{"t":"(2015-2019, 2019, 12_Dec, 13)","a":0.008,"b":0.036,"c":0.038,"e":0.146,"f":0,"g":0,"h":0.143},
{"t":"(2015-2019, 2019, 12_Dec, 14)","a":0.008,"b":0.036,"c":0.035,"e":0.126,"f":0,"g":0,"h":0.148},
{"t":"(2015-2019, 2019, 12_Dec, 15)","a":0.008,"b":0.062,"c":0.015,"e":0.115,"f":0,"g":0,"h":0.165},
{"t":"(2015-2019, 2019, 12_Dec, 16)","a":0.008,"b":0.036,"c":0.051,"e":0.120,"f":0,"g":0,"h":0.176},
{"t":"(2015-2019, 2019, 12_Dec, 17)","a":0.008,"b":0.036,"c":0.053,"e":0.122,"f":0,"g":0,"h":0.177},
{"t":"(2015-2019, 2019, 12_Dec, 18)","a":0.008,"b":0.036,"c":0.046,"e":0.132,"f":0,"g":0,"h":0.175},
{"t":"(2015-2019, 2019, 12_Dec, 19)","a":0.008,"b":0.036,"c":0.036,"e":0.135,"f":0,"g":0,"h":0.165},
{"t":"(2015-2019, 2019, 12_Dec, 20)","a":0.008,"b":0.036,"c":0.032,"e":0.134,"f":0,"g":0,"h":0.143},
{"t":"(2015-2019, 2019, 12_Dec, 21)","a":0.008,"b":0.036,"c":0.041,"e":0.134,"f":0,"g":0,"h":0.142},
{"t":"(2015-2019, 2019, 12_Dec, 22)","a":0.008,"b":0.036,"c":0.048,"e":0.128,"f":0,"g":0,"h":0.140},
{"t":"(2015-2019, 2019, 12_Dec, 23)","a":0.008,"b":0.036,"c":0.053,"e":0.118,"f":0,"g":0,"h":0.143},
{"t":"(2015-2019, 2019, 12_Dec, 24)","a":0.008,"b":0.036,"c":0.046,"e":0.118,"f":0,"g":0,"h":0.126},
{"t":"(2015-2019, 2019, 12_Dec, 25)","a":0.008,"b":0.036,"c":0.041,"e":0.115,"f":0,"g":0,"h":0.126},
{"t":"(2015-2019, 2019, 12_Dec, 26)","a":0.008,"b":0.036,"c":0.046,"e":0.100,"f":0,"g":0,"h":0.128},
{"t":"(2015-2019, 2019, 12_Dec, 27)","a":0.008,"b":0.036,"c":0.051,"e":0.065,"f":0,"g":0,"h":0.130},
{"t":"(2015-2019, 2019, 12_Dec, 28)","a":0.008,"b":0.062,"c":0.020,"e":0,"f":0.030,"g":0.003,"h":0.125},
{"t":"(2015-2019, 2019, 12_Dec, 29)","a":0.008,"b":0.062,"c":0.020,"e":0,"f":0.030,"g":0.003,"h":0.124},
{"t":"(2015-2019, 2019, 12_Dec, 30)","a":0.008,"b":0.062,"c":0.020,"e":0,"f":0.030,"g":0.003,"h":0.124},
{"t":"(2015-2019, 2019, 12_Dec, 31)","a":0.008,"b":0.062,"c":0.020,"e":0,"f":0.030,"g":0.003,"h":0.125},
{"t":"(2020-2024, 2020, 1_Jan, 1)","a":0.008,"b":0.062,"c":0.020,"e":0,"f":0.030,"g":0.002,"h":0.132},
{"t":"(2020-2024, 2020, 1_Jan, 2)","a":0.008,"b":0.032,"c":0.065,"e":0.107,"f":0,"g":0,"h":0.150},
{"t":"(2020-2024, 2020, 1_Jan, 3)","a":0.008,"b":0.032,"c":0.070,"e":0.105,"f":0,"g":0,"h":0.163},
{"t":"(2020-2024, 2020, 1_Jan, 4)","a":0.008,"b":0.032,"c":0.068,"e":0.112,"f":0,"g":0,"h":0.155},
{"t":"(2020-2024, 2020, 1_Jan, 5)","a":0.008,"b":0.032,"c":0.066,"e":0.119,"f":0,"g":0,"h":0.150},
{"t":"(2020-2024, 2020, 1_Jan, 6)","a":0.008,"b":0.032,"c":0.065,"e":0.124,"f":0,"g":0,"h":0.152},
{"t":"(2020-2024, 2020, 1_Jan, 7)","a":0.008,"b":0.032,"c":0.060,"e":0.128,"f":0,"g":0,"h":0.180},
{"t":"(2020-2024, 2020, 1_Jan, 8)","a":0.008,"b":0.032,"c":0.052,"e":0.130,"f":0,"g":0,"h":0.186},
{"t":"(2020-2024, 2020, 1_Jan, 9)","a":0.008,"b":0.032,"c":0.045,"e":0.134,"f":0,"g":0,"h":0.185},
{"t":"(2020-2024, 2020, 1_Jan, 10)","a":0.008,"b":0.032,"c":0.043,"e":0.136,"f":0,"g":0,"h":0.165},
{"t":"(2020-2024, 2020, 1_Jan, 11)","a":0.008,"b":0.032,"c":0.045,"e":0.125,"f":0,"g":0,"h":0.160},
{"t":"(2020-2024, 2020, 1_Jan, 12)","a":0.008,"b":0.032,"c":0.043,"e":0.136,"f":0,"g":0,"h":0.172},
{"t":"(2020-2024, 2020, 1_Jan, 13)","a":0.008,"b":0.032,"c":0.006,"e":0.090,"f":0,"g":0,"h":0.183},
{"t":"(2020-2024, 2020, 1_Jan, 14)","a":0.008,"b":0.062,"c":0.027,"e":0,"f":0.050,"g":0,"h":0.185},
{"t":"(2020-2024, 2020, 1_Jan, 15)","a":0.008,"b":0.062,"c":0.027,"e":0,"f":0.060,"g":0,"h":0.198},
{"t":"(2020-2024, 2020, 1_Jan, 16)","a":0.008,"b":0.062,"c":0.025,"e":0,"f":0.060,"g":0,"h":0.200},
{"t":"(2020-2024, 2020, 1_Jan, 17)","a":0.008,"b":0.062,"c":0,"e":0,"f":0.040,"g":0.030,"h":0.180},
{"t":"(2020-2024, 2020, 1_Jan, 18)","a":0.008,"b":0.032,"c":0,"e":0,"f":0.060,"g":0.060,"h":0.175},
{"t":"(2020-2024, 2020, 1_Jan, 19)","a":0.008,"b":0.062,"c":0,"e":0,"f":0.027,"g":0.063,"h":0.176},
{"t":"(2020-2024, 2020, 1_Jan, 20)","a":0.008,"b":0.062,"c":0,"e":0,"f":0.027,"g":0.083,"h":0.195},
{"t":"(2020-2024, 2020, 1_Jan, 21)","a":0.008,"b":0.062,"c":0,"e":0,"f":0.027,"g":0.133,"h":0.205},
{"t":"(2020-2024, 2020, 1_Jan, 22)","a":0.008,"b":0.062,"c":0,"e":0,"f":0.027,"g":0.163,"h":0.206},
{"t":"(2020-2024, 2020, 1_Jan, 23)","a":0.008,"b":0.062,"c":0,"e":0,"f":0.027,"g":0.181,"h":0.204},
{"t":"(2020-2024, 2020, 1_Jan, 24)","a":0.008,"b":0.062,"c":0,"e":0,"f":0.030,"g":0.150,"h":0.190},
{"t":"(2020-2024, 2020, 1_Jan, 25)","a":0.008,"b":0.062,"c":0,"e":0,"f":0.035,"g":0.110,"h":0.168},
{"t":"(2020-2024, 2020, 1_Jan, 26)","a":0.008,"b":0.062,"c":0,"e":0,"f":0.040,"g":0.084,"h":0.165},
{"t":"(2020-2024, 2020, 1_Jan, 27)","a":0.008,"b":0.062,"c":0,"e":0,"f":0.035,"g":0.135,"h":0.178},
{"t":"(2020-2024, 2020, 1_Jan, 28)","a":0.008,"b":0.062,"c":0,"e":0,"f":0.027,"g":0.203,"h":0.190},
{"t":"(2020-2024, 2020, 1_Jan, 29)","a":0.008,"b":0.062,"c":0,"e":0,"f":0.027,"g":0.208,"h":0.190},
{"t":"(2020-2024, 2020, 1_Jan, 30)","a":0.008,"b":0.062,"c":0,"e":0,"f":0.027,"g":0.193,"h":0.192},
{"t":"(2020-2024, 2020, 1_Jan, 31)","a":0.008,"b":0.062,"c":0,"e":0,"f":0.027,"g":0.103,"h":0.197},
{"t":"(2020-2024, 2020, 2_Feb, 1)","a":0.008,"b":0.062,"c":0.020,"e":0,"f":0.050,"g":0.040,"h":0.168},
{"t":"(2020-2024, 2020, 2_Feb, 2)","a":0.008,"b":0.062,"c":0.030,"e":0,"f":0.050,"g":0.040,"h":0.180},
{"t":"(2020-2024, 2020, 2_Feb, 3)","a":0.008,"b":0.062,"c":0.030,"e":0,"f":0.055,"g":0.042,"h":0.183},
{"t":"(2020-2024, 2020, 2_Feb, 4)","a":0.008,"b":0.062,"c":0.040,"e":0,"f":0.050,"g":0.030,"h":0.186},
{"t":"(2020-2024, 2020, 2_Feb, 5)","a":0.008,"b":0.062,"c":0.040,"e":0,"f":0.050,"g":0.010,"h":0.183},
{"t":"(2020-2024, 2020, 2_Feb, 6)","a":0.008,"b":0.062,"c":0.030,"e":0,"f":0.055,"g":0.010,"h":0.180},
{"t":"(2020-2024, 2020, 2_Feb, 7)","a":0.008,"b":0.062,"c":0.027,"e":0,"f":0.053,"g":0.002,"h":0.178},
{"t":"(2020-2024, 2020, 2_Feb, 8)","a":0.008,"b":0.032,"c":0.050,"e":0,"f":0.060,"g":0,"h":0.165},
{"t":"(2020-2024, 2020, 2_Feb, 9)","a":0.008,"b":0.062,"c":0.038,"e":0,"f":0.052,"g":0,"h":0.166},
{"t":"(2020-2024, 2020, 2_Feb, 10)","a":0.008,"b":0.062,"c":0.045,"e":0,"f":0.040,"g":0,"h":0.164},
{"t":"(2020-2024, 2020, 2_Feb, 11)","a":0.008,"b":0.062,"c":0.052,"e":0,"f":0.030,"g":0,"h":0.152},
{"t":"(2020-2024, 2020, 2_Feb, 12)","a":0.008,"b":0.062,"c":0.048,"e":0,"f":0.037,"g":0,"h":0.153},
{"t":"(2020-2024, 2020, 2_Feb, 13)","a":0.008,"b":0.062,"c":0.040,"e":0,"f":0.048,"g":0,"h":0.156},
{"t":"(2020-2024, 2020, 2_Feb, 14)","a":0.008,"b":0.062,"c":0.041,"e":0,"f":0.044,"g":0,"h":0.155},
{"t":"(2020-2024, 2020, 2_Feb, 15)","a":0.008,"b":0.062,"c":0.035,"e":0,"f":0.043,"g":0,"h":0.150},
{"t":"(2020-2024, 2020, 2_Feb, 16)","a":0.008,"b":0.032,"c":0.060,"e":0.129,"f":0,"g":0,"h":0.143},
{"t":"(2020-2024, 2020, 2_Feb, 17)","a":0.008,"b":0.062,"c":0.060,"e":0,"f":0.040,"g":0,"h":0.143},
{"t":"(2020-2024, 2020, 2_Feb, 18)","a":0.008,"b":0.062,"c":0.077,"e":0,"f":0.028,"g":0,"h":0.165},
{"t":"(2020-2024, 2020, 2_Feb, 19)","a":0.008,"b":0.062,"c":0.035,"e":0.090,"f":0,"g":0,"h":0.177},
{"t":"(2020-2024, 2020, 2_Feb, 20)","a":0.008,"b":0.062,"c":0.027,"e":0.100,"f":0,"g":0,"h":0.176},
{"t":"(2020-2024, 2020, 2_Feb, 21)","a":0.008,"b":0.062,"c":0.025,"e":0.102,"f":0,"g":0,"h":0.165},
{"t":"(2020-2024, 2020, 2_Feb, 22)","a":0.008,"b":0.062,"c":0.022,"e":0.105,"f":0,"g":0,"h":0.160},
{"t":"(2020-2024, 2020, 2_Feb, 23)","a":0.008,"b":0.062,"c":0.020,"e":0.138,"f":0,"g":0,"h":0.158},
{"t":"(2020-2024, 2020, 2_Feb, 24)","a":0.008,"b":0.062,"c":0.025,"e":0.100,"f":0,"g":0,"h":0.170},
{"t":"(2020-2024, 2020, 2_Feb, 25)","a":0.008,"b":0.062,"c":0.030,"e":0.060,"f":0,"g":0,"h":0.190},
{"t":"(2020-2024, 2020, 2_Feb, 26)","a":0.008,"b":0.062,"c":0.050,"e":0,"f":0.043,"g":0,"h":0.168},
{"t":"(2020-2024, 2020, 2_Feb, 27)","a":0.008,"b":0.062,"c":0.060,"e":0,"f":0.025,"g":0,"h":0.166},
{"t":"(2020-2024, 2020, 2_Feb, 28)","a":0.008,"b":0.046,"c":0.081,"e":0,"f":0.013,"g":0,"h":0.165},
{"t":"(2020-2024, 2020, 3_Mar, 1)","a":0.008,"b":0.046,"c":0.083,"e":0,"f":0.005,"g":0,"h":0.110},
{"t":"(2020-2024, 2020, 3_Mar, 2)","a":0.008,"b":0.062,"c":0.067,"e":0,"f":0.003,"g":0,"h":0.135},
{"t":"(2020-2024, 2020, 3_Mar, 3)","a":0.008,"b":0.062,"c":0.065,"e":0,"f":0.013,"g":0,"h":0.140},
{"t":"(2020-2024, 2020, 3_Mar, 4)","a":0.008,"b":0.062,"c":0.063,"e":0,"f":0.020,"g":0,"h":0.142},
{"t":"(2020-2024, 2020, 3_Mar, 5)","a":0.008,"b":0.062,"c":0.064,"e":0,"f":0.024,"g":0,"h":0.160},
{"t":"(2020-2024, 2020, 3_Mar, 6)","a":0.008,"b":0.062,"c":0.066,"e":0,"f":0.026,"g":0,"h":0.168},
{"t":"(2020-2024, 2020, 3_Mar, 7)","a":0.008,"b":0.062,"c":0.067,"e":0,"f":0.026,"g":0,"h":0.168},
{"t":"(2020-2024, 2020, 3_Mar, 8)","a":0.008,"b":0.032,"c":0.042,"e":0.128,"f":0,"g":0,"h":0.152},
{"t":"(2020-2024, 2020, 3_Mar, 9)","a":0.008,"b":0.032,"c":0.040,"e":0.139,"f":0,"g":0,"h":0.150},
{"t":"(2020-2024, 2020, 3_Mar, 10)","a":0.008,"b":0.032,"c":0.039,"e":0.143,"f":0,"g":0,"h":0.150},
{"t":"(2020-2024, 2020, 3_Mar, 11)","a":0.008,"b":0.032,"c":0.041,"e":0.145,"f":0,"g":0,"h":0.162},
{"t":"(2020-2024, 2020, 3_Mar, 12)","a":0.008,"b":0.032,"c":0.043,"e":0.143,"f":0,"g":0,"h":0.173},
{"t":"(2020-2024, 2020, 3_Mar, 13)","a":0.008,"b":0.032,"c":0.043,"e":0.147,"f":0,"g":0,"h":0.174},
{"t":"(2020-2024, 2020, 3_Mar, 14)","a":0.008,"b":0.032,"c":0.045,"e":0.141,"f":0,"g":0,"h":0.172},
{"t":"(2020-2024, 2020, 3_Mar, 15)","a":0.008,"b":0.032,"c":0.050,"e":0.138,"f":0,"g":0,"h":0.165},
{"t":"(2020-2024, 2020, 3_Mar, 16)","a":0.008,"b":0.062,"c":0.030,"e":0.139,"f":0,"g":0,"h":0.153},
{"t":"(2020-2024, 2020, 3_Mar, 17)","a":0.008,"b":0.055,"c":0.035,"e":0.137,"f":0,"g":0,"h":0.160},
{"t":"(2020-2024, 2020, 3_Mar, 18)","a":0.008,"b":0.032,"c":0.057,"e":0.128,"f":0,"g":0,"h":0.165},
{"t":"(2020-2024, 2020, 3_Mar, 19)","a":0.008,"b":0.032,"c":0.055,"e":0.140,"f":0,"g":0,"h":0.165},
{"t":"(2020-2024, 2020, 3_Mar, 20)","a":0.008,"b":0.032,"c":0.052,"e":0.148,"f":0,"g":0,"h":0.166},
{"t":"(2020-2024, 2020, 3_Mar, 21)","a":0.008,"b":0.032,"c":0.050,"e":0.155,"f":0,"g":0,"h":0.165},
{"t":"(2020-2024, 2020, 3_Mar, 22)","a":0.008,"b":0.032,"c":0.092,"e":0.116,"f":0,"g":0,"h":0.160},
{"t":"(2020-2024, 2020, 3_Mar, 23)","a":0.008,"b":0.032,"c":0.092,"e":0.118,"f":0,"g":0,"h":0.150},
{"t":"(2020-2024, 2020, 3_Mar, 24)","a":0.008,"b":0.045,"c":0.079,"e":0.068,"f":0,"g":0,"h":0.150},
{"t":"(2020-2024, 2020, 3_Mar, 25)","a":0.008,"b":0.062,"c":0.055,"e":0.058,"f":0,"g":0,"h":0.160},
{"t":"(2020-2024, 2020, 3_Mar, 26)","a":0.008,"b":0.062,"c":0.058,"e":0.055,"f":0,"g":0,"h":0.170},
{"t":"(2020-2024, 2020, 3_Mar, 27)","a":0.008,"b":0.055,"c":0.048,"e":0.061,"f":0,"g":0,"h":0.170},
{"t":"(2020-2024, 2020, 3_Mar, 28)","a":0.008,"b":0.035,"c":0.094,"e":0.108,"f":0,"g":0,"h":0.163},
{"t":"(2020-2024, 2020, 3_Mar, 29)","a":0.008,"b":0.035,"c":0.094,"e":0.113,"f":0,"g":0,"h":0.172},
{"t":"(2020-2024, 2020, 3_Mar, 30)","a":0.008,"b":0.050,"c":0.080,"e":0.128,"f":0,"g":0,"h":0.168},
{"t":"(2020-2024, 2020, 3_Mar, 31)","a":0.008,"b":0.057,"c":0.073,"e":0.131,"f":0,"g":0,"h":0.186}
]},
"data":{"name":"supply"},
"encoding":{
 "x":{"field":"t","type":"ordinal","sort":null,"scale":{"type":"point","padding":0.5},
  "axis":{"title":null,"labelAngle":-90,"labelExpr":"round(datum.index*364) % 7 == 0 ? datum.label : ''","labelOverlap":false,"labelBound":false,"labelFlush":false,"labelFont":"Lato","labelFontSize":10.5,"labelColor":"#404040","labelPadding":3,"tickSize":4,"tickColor":"#BFBFBF","domainColor":"#BFBFBF","grid":false}}
},
"layer":[
 {"transform":[{"fold":["a","b","c","e","f","g"],"as":["k","v"]},{"lookup":"k","from":{"data":{"name":"names"},"key":"k","fields":["name"]}}],
  "mark":{"type":"area","interpolate":"linear"},
  "encoding":{
   "y":{"field":"v","type":"quantitative","stack":"zero","title":"bcm/day","scale":{"domain":[0,0.35],"nice":false},
    "axis":{"title":"bcm/day","values":[0,0.05,0.1,0.15,0.2,0.25,0.3,0.35],"format":"~g","grid":false,"domainColor":"#BFBFBF","tickColor":"#BFBFBF","tickSize":6,"labelFont":"Lato","labelFontSize":16,"labelColor":"#404040","labelPadding":12,"titleFont":"Lato","titleFontSize":15,"titleFontWeight":"bold","titleColor":"#000000","titleX":-63,"titleY":116,"titleAngle":270,"titleAlign":"center","titleBaseline":"middle"}},
   "color":{"field":"name","type":"nominal",
    "scale":{"domain":["DE_IndigenousSupplies","NO->GPL(Dornum)","RU->GPL(Yamal)","RU->GPL(NordStream)","NL->GPL","Storages_DE","DE_GPL_Consumption"],
             "range":["#4E8AC6","#D4702C","#939393","#E0A800","#3B63B0","#5F9A3D","#FF0000"]},
    "legend":{"title":null,"orient":"none","legendX":-76,"legendY":503,"direction":"horizontal","columns":4,"gridAlign":"each","columnPadding":4,"rowPadding":18,"symbolType":"square","symbolSize":130,"symbolStrokeWidth":0,"labelFont":"Lato","labelFontSize":12,"labelColor":"#404040","labelOffset":3,
     "encode":{"symbols":{"update":{"shape":{"signal":"datum.label == 'DE_GPL_Consumption' ? 'stroke' : 'square'"},"stroke":{"signal":"datum.label == 'DE_GPL_Consumption' ? '#FF0000' : 'transparent'"},"strokeWidth":{"signal":"datum.label == 'DE_GPL_Consumption' ? 2 : 0"}}}}}},
   "order":{"field":"k","type":"ordinal"}
  }},
 {"mark":{"type":"line","color":"#FF0000","strokeWidth":2},
  "encoding":{
   "y":{"field":"h","type":"quantitative","title":"bcm/day",
    "axis":{"title":"bcm/day","values":[0,0.05,0.1,0.15,0.2,0.25,0.3,0.35],"format":"~g","grid":false,"domainColor":"#BFBFBF","tickColor":"#BFBFBF","tickSize":6,"labelFont":"Lato","labelFontSize":16,"labelColor":"#404040","labelPadding":12,"titleFont":"Lato","titleFontSize":15,"titleFontWeight":"bold","titleColor":"#000000","titleX":-63,"titleY":116,"titleAngle":270,"titleAlign":"center","titleBaseline":"middle"}},
   "color":{"datum":"DE_GPL_Consumption","legend":null}
  }}
]
}
